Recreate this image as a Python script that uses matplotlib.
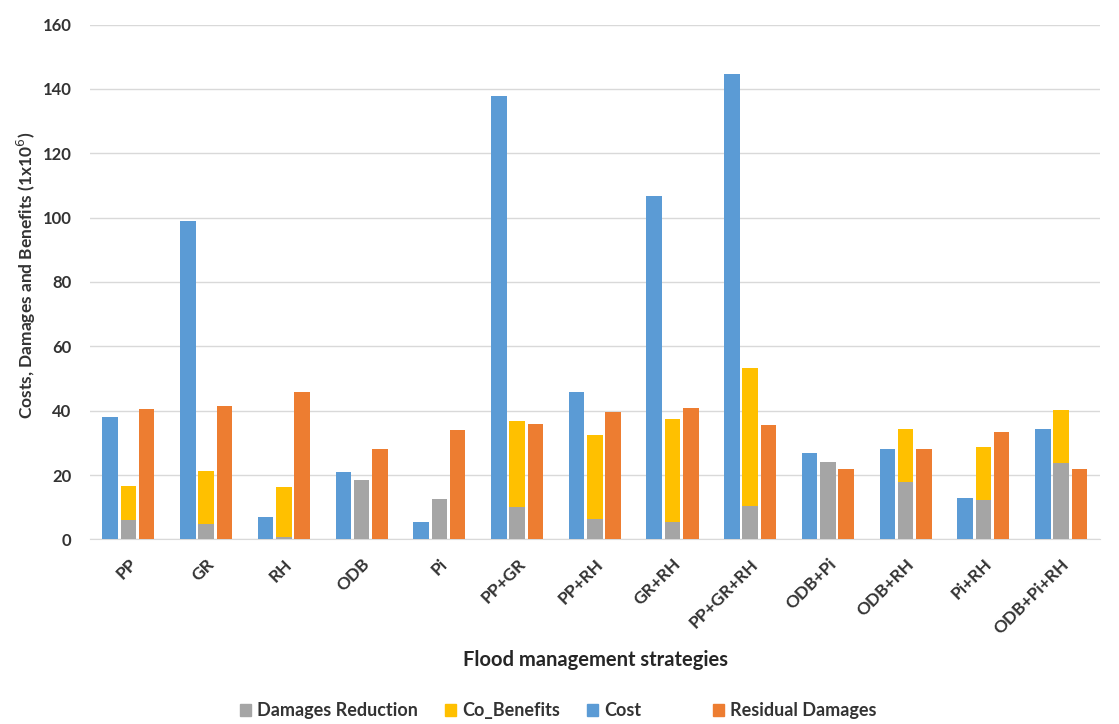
import matplotlib
matplotlib.use("Agg")
import matplotlib.pyplot as plt
import numpy as np
from matplotlib.patches import Patch

categories = ["PP", "GR", "RH", "ODB", "Pi", "PP+GR", "PP+RH", "GR+RH",
              "PP+GR+RH", "ODB+Pi", "ODB+RH", "Pi+RH", "ODB+Pi+RH"]
cost = [38.1, 99.1, 6.9, 21.0, 5.5, 137.7, 45.8, 106.6, 144.7, 26.7, 28.2, 12.8, 34.3]
damages_reduction = [6.0, 4.8, 0.8, 18.4, 12.5, 10.2, 6.3, 5.5, 10.5, 24.0, 17.7, 12.3, 23.6]
co_benefits_top = [16.5, 21.2, 16.3, 18.4, 12.5, 36.7, 32.5, 37.4, 53.3, 24.0, 34.3, 28.7, 40.2]
residual_damages = [40.5, 41.6, 45.8, 28.2, 33.9, 36.0, 39.7, 40.7, 35.5, 21.9, 28.0, 33.4, 21.9]
co_benefits = [t - d for t, d in zip(co_benefits_top, damages_reduction)]

BLUE = "#5B9BD5"
ORANGE = "#ED7D31"
GRAY = "#A5A5A5"
YELLOW = "#FFC000"
TXT = "#333333"

plt.rcParams['font.family'] = ['Lato', 'DejaVu Sans']

fig = plt.figure(figsize=(11.19, 7.24), dpi=100)
ax = fig.add_axes([0.080, 0.255, 0.903, 0.711])

x = np.arange(len(categories))
w = 0.20
off = 0.235
ax.bar(x - off, cost, w, color=BLUE, zorder=3)
ax.bar(x, damages_reduction, w, color=GRAY, zorder=3)
ax.bar(x, co_benefits, w, bottom=damages_reduction, color=YELLOW, zorder=3)
ax.bar(x + off, residual_damages, w, color=ORANGE, zorder=3)

ax.set_xlim(-0.5, len(categories) - 0.5)
ax.set_ylim(0, 160)
ax.set_yticks(np.arange(0, 161, 20))
ax.yaxis.grid(True, color="#D9D9D9", linewidth=1, zorder=0)
for s in ["top", "right", "left"]:
    ax.spines[s].set_visible(False)
ax.spines["bottom"].set_color("#D9D9D9")
ax.tick_params(axis="both", length=0)
ax.tick_params(axis="y", pad=13)
ax.tick_params(axis="x", pad=12)
ax.set_xticks(x)
ax.set_xticklabels(categories, rotation=45, ha="right", rotation_mode="anchor",
                   fontsize=12.5, fontweight="bold", color=TXT)
for lab in ax.get_yticklabels():
    lab.set_fontsize(12)
    lab.set_fontweight("bold")
    lab.set_color(TXT)

fig.text(0.024, 0.62, r"Costs, Damages and Benefits (1x10$^{6}$)", rotation=90,
         ha="center", va="center", fontsize=12.5, fontweight="bold", color=TXT)
fig.text(0.532, 0.088, "Flood management strategies", ha="center", va="center",
         fontsize=14.5, fontweight="bold", color="#262626")

handles = [Patch(color=GRAY, label="Damages Reduction"),
           Patch(color=YELLOW, label="Co_Benefits"),
           Patch(color=BLUE, label="Cost"),
           Patch(color="none", label=""),
           Patch(color=ORANGE, label="Residual Damages")]
leg = fig.legend(handles=handles, loc="center", bbox_to_anchor=(0.499, 0.018), ncol=5,
                 frameon=False, handlelength=0.6, handleheight=0.6, handletextpad=0.35,
                 columnspacing=1.5, prop={"size": 13, "weight": "bold"})
for t in leg.get_texts():
    t.set_color(TXT)

fig.savefig("out.png", dpi=100)
